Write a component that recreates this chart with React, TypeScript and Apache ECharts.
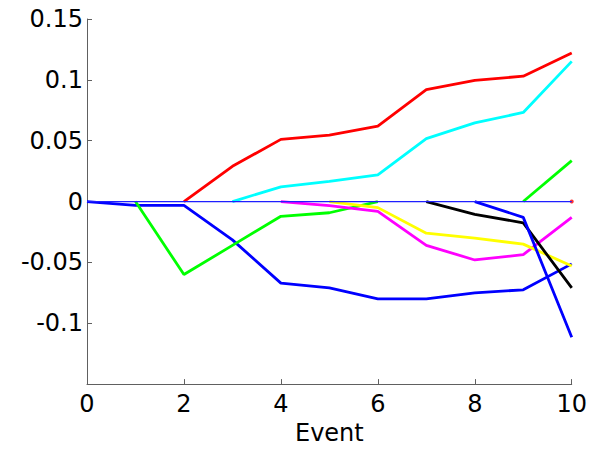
import React, { useEffect, useRef } from "react";
import * as echarts from "echarts";

const events = [0, 1, 2, 3, 4, 5, 6, 7, 8, 9, 10];
const xTicks = [0, 2, 4, 6, 8, 10];
const yTicks = [-0.15, -0.1, -0.05, 0, 0.05, 0.1, 0.15];

// each series starts at event index `start`
const blueA = [0, -0.0032, -0.0032, -0.0315, -0.067, -0.071, -0.08, -0.08, -0.075, -0.0725, -0.0512];
const greenA = [0, -0.06, -0.036, -0.0121, -0.0092, 0];
const redA = [0, 0.029, 0.0511, 0.0546, 0.0619, 0.092, 0.0996, 0.103, 0.122];
const cyanA = [0, 0.0121, 0.0166, 0.022, 0.0517, 0.0646, 0.0732, 0.1152];
const magentaA = [0, -0.0034, -0.008, -0.036, -0.048, -0.0436, -0.013];
const yellowA = [0, -0.005, -0.026, -0.03, -0.035, -0.053];
const blackA = [0, -0.0105, -0.0175, -0.071];
const blueB = [0, -0.013, -0.1115];
const greenB = [0, 0.0336];
const redB = [0];

const seriesDefs = [
  { name: "s1", start: 0, values: blueA, color: "#0000ff" },
  { name: "s2", start: 1, values: greenA, color: "#00ff00" },
  { name: "s3", start: 2, values: redA, color: "#ff0000" },
  { name: "s4", start: 3, values: cyanA, color: "#00ffff" },
  { name: "s5", start: 4, values: magentaA, color: "#ff00ff" },
  { name: "s6", start: 5, values: yellowA, color: "#ffff00" },
  { name: "s7", start: 7, values: blackA, color: "#000000" },
  { name: "s8", start: 8, values: blueB, color: "#0000ff" },
  { name: "s9", start: 9, values: greenB, color: "#00ff00" },
];

const FONT = "DejaVu Sans";

export default function App() {
  const ref = useRef<HTMLDivElement>(null);
  useEffect(() => {
    if (!ref.current) return;
    const chart = echarts.init(ref.current, null, { renderer: "svg" });
    const lineSeries: any[] = seriesDefs.map((s, i) => ({
      type: "line",
      name: s.name,
      data: s.values.map((v, k) => [events[s.start + k], v]),
      showSymbol: false,
      symbol: "none",
      lineStyle: { color: s.color, width: 2.8 },
      itemStyle: { color: s.color },
      z: 2 + i * 0.01,
      silent: true,
    }));
    lineSeries.push({
      type: "scatter",
      name: "s10",
      data: redB.map((v) => [events[10], v]),
      symbol: "circle",
      symbolSize: 4,
      itemStyle: { color: "#ff0000" },
      z: 3,
      silent: true,
    });
    lineSeries.push({
      type: "line",
      name: "zero",
      data: events.map((x) => [x, 0]),
      showSymbol: false,
      symbol: "none",
      lineStyle: { color: "#1f1fff", width: 1.2 },
      z: 4,
      silent: true,
    });
    chart.setOption({
      animation: false,
      backgroundColor: "#ffffff",
      grid: { left: 87, right: 17, top: 19, bottom: 60, containLabel: false },
      xAxis: {
        type: "value",
        min: xTicks[0],
        max: xTicks[xTicks.length - 1],
        interval: 2,
        name: "Event",
        nameLocation: "middle",
        nameGap: 36,
        nameTextStyle: { fontFamily: FONT, fontSize: 24, color: "#000" },
        axisLine: { show: true, onZero: false, lineStyle: { color: "#606060", width: 1 } },
        axisTick: { show: true, inside: true, length: 5, lineStyle: { color: "#606060" } },
        axisLabel: { fontFamily: FONT, fontSize: 24, color: "#000", margin: 8 },
        splitLine: { show: false },
      },
      yAxis: {
        type: "value",
        min: yTicks[0],
        max: yTicks[yTicks.length - 1],
        interval: 0.05,
        axisLine: { show: true, onZero: false, lineStyle: { color: "#606060", width: 1 } },
        axisTick: { show: true, inside: true, length: 5, lineStyle: { color: "#606060" } },
        axisLabel: {
          fontFamily: FONT,
          fontSize: 24,
          color: "#000",
          margin: 4,
          formatter: (v: number) => {
            if (v < -0.14) return "";
            const r = Math.round(v * 100) / 100;
            return String(r);
          },
        },
        splitLine: { show: false },
      },
      series: lineSeries,
    });
    return () => chart.dispose();
  }, []);
  return (
    <div
      ref={ref}
      style={{ position: "absolute", left: 0, top: 0, width: 590, height: 450 }}
    />
  );
}
